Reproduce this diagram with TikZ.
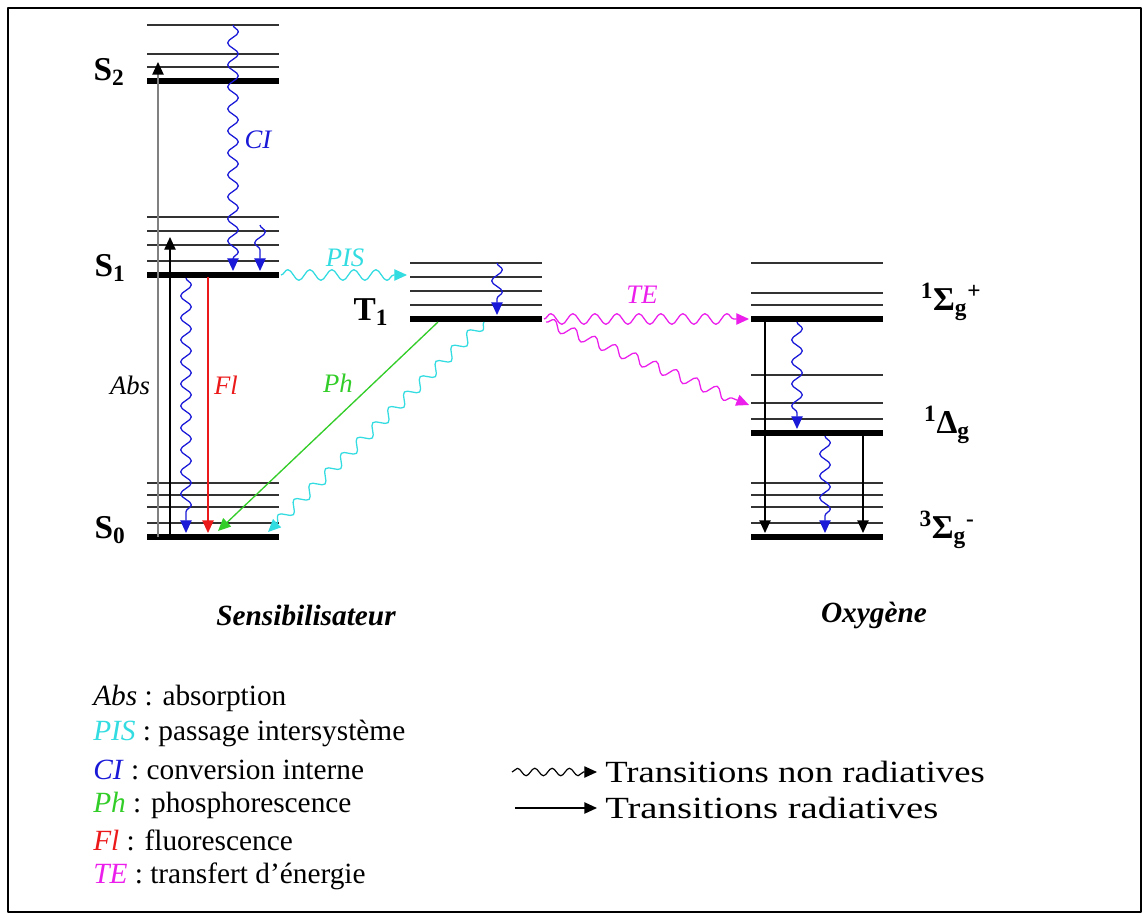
\documentclass[tikz,border=0pt]{standalone}
\usepackage{fontspec}
\usepackage{graphicx}
\setmainfont{Liberation Serif}
\usetikzlibrary{arrows.meta,decorations.pathmorphing}

\definecolor{ciblue}{RGB}{25,25,215}
\definecolor{piscyan}{RGB}{50,220,225}
\definecolor{phgreen}{RGB}{50,205,40}
\definecolor{flred}{RGB}{235,25,25}
\definecolor{temag}{RGB}{235,30,235}

\begin{document}
\begin{tikzpicture}[
  x = 0.75pt, y = -0.75pt,
  line join=round,
  font=\fontsize{22}{26}\selectfont,
  thinlevel/.style={line width=1.1pt, black!80},
  thicklevel/.style={line width=3.8pt},
  headtip/.style={-{Triangle[length=9.5pt,width=8.5pt]}},
  radiative/.style={headtip, line width=1pt},
  wavy/.style={headtip, line width=0.95pt, decorate,
    decoration={snake, amplitude=4pt, segment length=16.5pt, post length=8pt}},
  lvl/.style={font=\bfseries\fontsize{25}{29}\selectfont},
  lbl/.style={font=\itshape\fontsize{20}{24}\selectfont},
  legend/.style={anchor=west, inner sep=0pt}
]
  \useasboundingbox (0,0) rectangle (1148,920);
  \draw[line width=1.5pt] (8,8) rectangle (1141,912);

  \def\xa{147} \def\xb{279}   % sensibilisateur
  \def\xc{410} \def\xd{542}   % T1
  \def\xe{751} \def\xf{883}   % oxygene

  % niveaux du sensibilisateur
  \foreach \y in {25,54,67,217,231,245,261,483,495,507,523}
    \draw[thinlevel] (\xa,\y) -- (\xb,\y);
  \foreach \y in {81,275,537}
    \draw[thicklevel] (\xa,\y) -- (\xb,\y);

  % niveaux T1
  \foreach \y in {263,277,291,305}
    \draw[thinlevel] (\xc,\y) -- (\xd,\y);
  \draw[thicklevel] (\xc,319) -- (\xd,319);

  % niveaux de l'oxygene
  \foreach \y in {263,293,305,375,403,419,483,495,507,523}
    \draw[thinlevel] (\xe,\y) -- (\xf,\y);
  \foreach \y in {319,433,537}
    \draw[thicklevel] (\xe,\y) -- (\xf,\y);

  % noms des niveaux
  \node[lvl] (s2) at (109,72)  {S\textsubscript{2}};
  \node[lvl] (s1) at (110,268) {S\textsubscript{1}};
  \node[lvl] (s0) at (110,530) {S\textsubscript{0}};
  \node[lvl] (t1) at (371,312) {T\textsubscript{1}};
  \node[lvl] (sigp) at (951,302) {\textsuperscript{1}Σ\textsubscript{g}\textsuperscript{+}};
  \node[lvl] (delta) at (947,425) {\textsuperscript{1}Δ\textsubscript{g}};
  \node[lvl] (sigm) at (947,530) {\textsuperscript{3}Σ\textsubscript{g}\textsuperscript{-}};

  % points de depart et d'arrivee
  \coordinate (absA0) at (158,537); \coordinate (absA1) at (158,62);
  \coordinate (absB0) at (170,537); \coordinate (absB1) at (170,237);
  \coordinate (ci0) at (233,25);    \coordinate (ci1) at (233,271);
  \coordinate (cis0) at (260,225);  \coordinate (cis1) at (260,271);
  \coordinate (cil0) at (186,278);  \coordinate (cil1) at (186,533);
  \coordinate (fl0) at (208,277);   \coordinate (fl1) at (208,533);
  \coordinate (pis0) at (281,275);  \coordinate (pis1) at (407,275);
  \coordinate (cit0) at (497,263);  \coordinate (cit1) at (497,315);
  \coordinate (ph0) at (438,322);   \coordinate (ph1) at (218,531);
  \coordinate (cs0) at (484,322);   \coordinate (cs1) at (268,532);
  \coordinate (te0) at (544,319);   \coordinate (te1) at (749,319);
  \coordinate (tf0) at (546,322);   \coordinate (tf1) at (749,405);
  \coordinate (oa0) at (765,321);   \coordinate (oa1) at (765,533);
  \coordinate (ob0) at (797,322);   \coordinate (ob1) at (797,429);
  \coordinate (oc0) at (825,436);   \coordinate (oc1) at (825,533);
  \coordinate (od0) at (863,435);   \coordinate (od1) at (863,533);

  % transitions du sensibilisateur
  \draw[radiative, black!50, -{Triangle[length=9.5pt,width=8.5pt,black]}] (absA0) -- (absA1);
  \draw[radiative] (absB0) -- (absB1);
  \draw[wavy, ciblue] (ci0) -- (ci1);
  \draw[wavy, ciblue] (cis0) -- (cis1);
  \draw[wavy, ciblue] (cil0) -- (cil1);
  \draw[radiative, flred] (fl0) -- (fl1);
  \draw[wavy, piscyan] (pis0) -- (pis1);
  \draw[wavy, ciblue] (cit0) -- (cit1);
  \draw[radiative, phgreen] (ph0) -- (ph1);
  \draw[wavy, piscyan] (cs0) -- (cs1);

  % transfert vers l'oxygene
  \draw[wavy, temag] (te0) -- (te1);
  \draw[wavy, temag] (tf0) -- (tf1);
  \draw[radiative] (oa0) -- (oa1);
  \draw[wavy, ciblue] (ob0) -- (ob1);
  \draw[wavy, ciblue] (oc0) -- (oc1);
  \draw[radiative] (od0) -- (od1);

  % etiquettes des transitions
  \node[lbl] (abs) at (130,385) {Abs};
  \node[lbl, ciblue] (ci) at (258,140) {CI};
  \node[lbl, flred] (fl) at (226,385) {Fl};
  \node[lbl, piscyan] (pis) at (345,258) {PIS};
  \node[lbl, phgreen] (ph) at (338,383) {Ph};
  \node[lbl, temag] (te) at (642,295) {TE};

  \node[font=\bfseries\itshape\fontsize{22}{26}\selectfont] (sens) at (306,615) {Sensibilisateur};
  \node[font=\bfseries\itshape\fontsize{22}{26}\selectfont] (oxy) at (874,615) {Oxygène};

  % legende
  \node[legend] (lgabs) at (93,698) {\textit{Abs} : absorption};
  \node[legend] (lgpis) at (93,733) {\textcolor{piscyan}{\textit{PIS}} : passage intersystème};
  \node[legend] (lgci)  at (93,770) {\textcolor{ciblue}{\textit{CI}} : conversion interne};
  \node[legend] (lgph)  at (93,805) {\textcolor{phgreen}{\textit{Ph}} : phosphorescence};
  \node[legend] (lgfl)  at (93,840) {\textcolor{flred}{\textit{Fl}} : fluorescence};
  \node[legend] (lgte)  at (93,876) {\textcolor{temag}{\textit{TE}} : transfert d'énergie};

  \node[legend] (nonrad) at (605,772) {\scalebox{1.25}[1.05]{Transitions non radiatives}};
  \node[legend] (rad)    at (605,808) {\scalebox{1.32}[1.05]{Transitions radiatives}};
  \coordinate (nr0) at (512,772);
  \coordinate (r0)  at (515,808);
  \draw[headtip, line width=0.9pt, decorate,
    decoration={snake, amplitude=2.8pt, segment length=13pt, post length=8pt}]
    (nr0) -- ([xshift=-6pt]nonrad.west);
  \draw[radiative] (r0) -- ([xshift=-6pt]rad.west);
\end{tikzpicture}
\end{document}
